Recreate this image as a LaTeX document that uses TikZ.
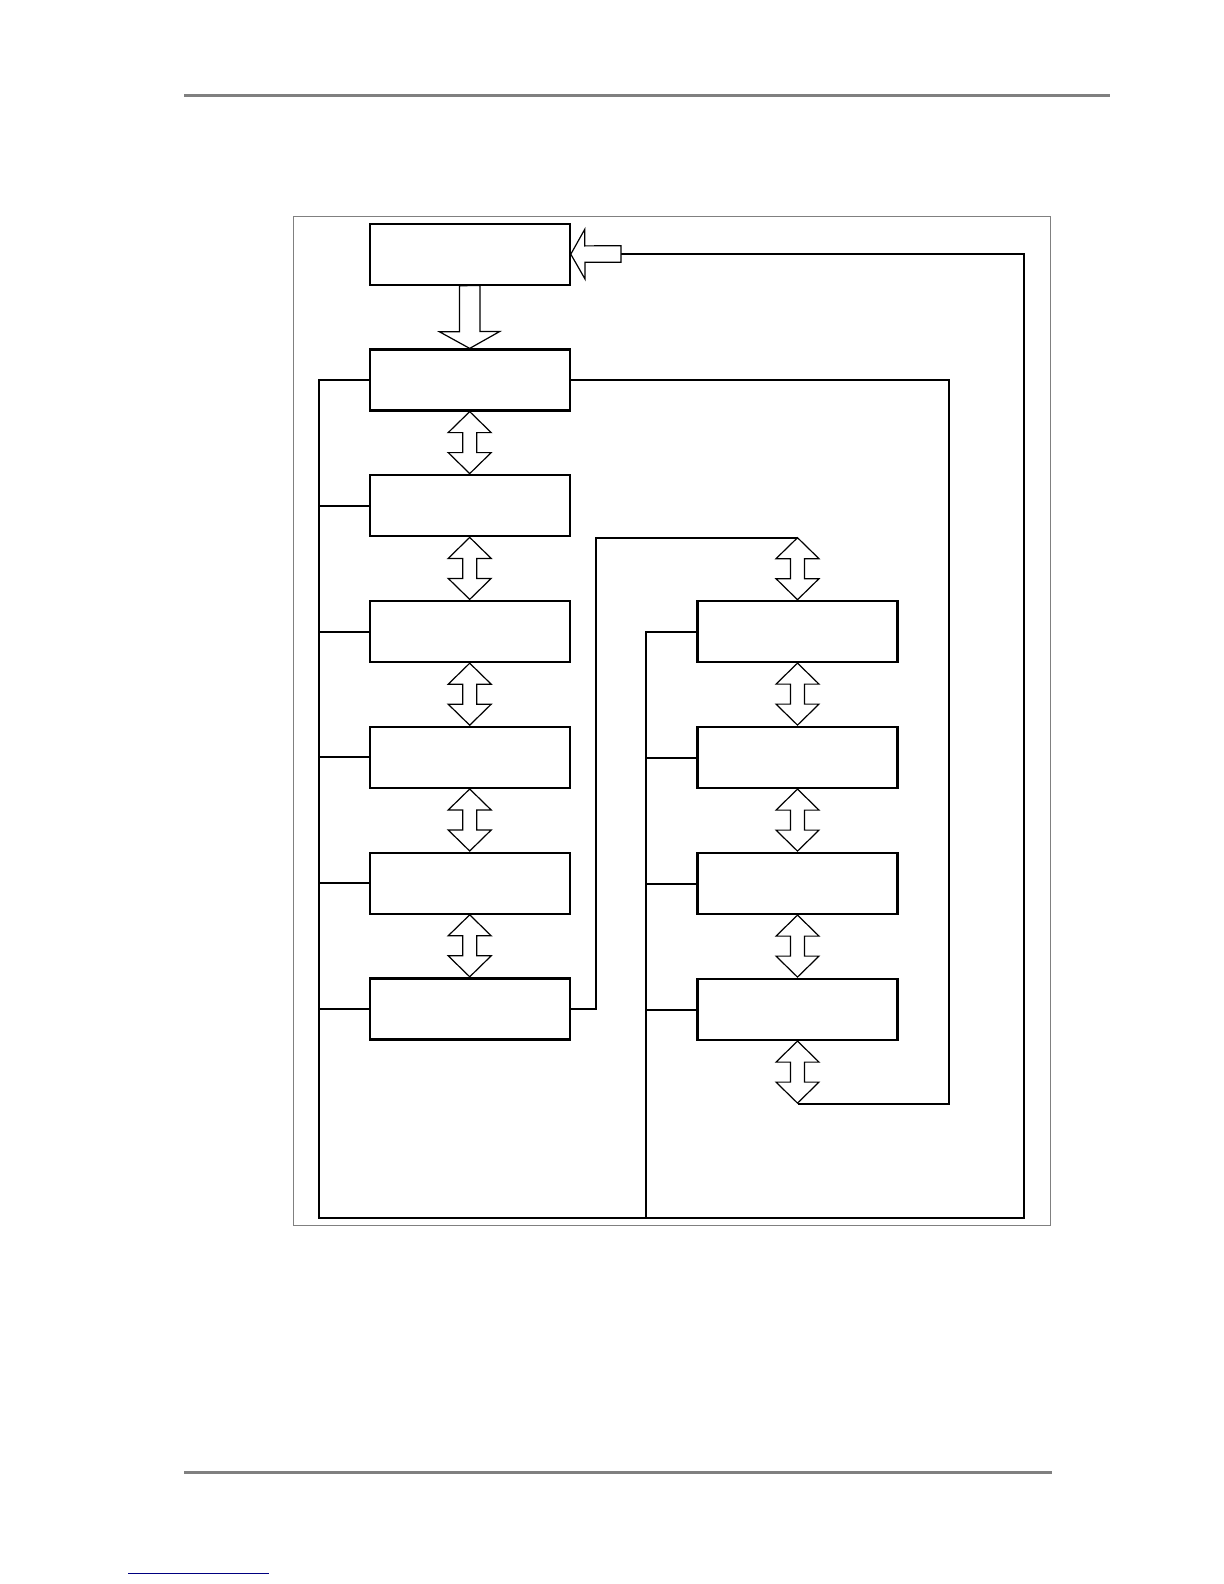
\documentclass[tikz,border=0pt]{standalone}
\usepackage{xcolor}
\usetikzlibrary{
    positioning,
    calc
}

\begin{document}
\begin{tikzpicture}[
    x=0.5pt, y=-0.5pt,
    box/.style={
        rectangle,
        draw=black,
        line width=1.1pt,
        minimum width=100pt,
        minimum height=30.5pt,
        inner sep=0pt,
        fill=white
    },
    link/.style={
        draw=black,
        line width=1pt
    },
    blockarrow/.style={
        draw=black,
        line width=0.6pt,
        fill=white,
        line join=miter
    },
    frame/.style={
        draw=black!50,
        line width=0.5pt
    },
    rule/.style={
        draw=black!50,
        line width=1.5pt
    }
]
\useasboundingbox (0,0) rectangle (1224,1584);

% =========================================================
% Page rules and frame
% =========================================================
\draw[rule] (184,95.3) -- (1110,95.3);
\draw[rule] (184,1472) -- (1052,1472);
\draw[draw=blue!50!black, line width=0.5pt] (128,1573) -- (269,1573);

\draw[frame] (293.7,216) rectangle (1050.3,1225.7);

% =========================================================
% Left column
% =========================================================
\node[box] (b0) at (469.7,254.2) {};
\foreach \i in {1,...,6}
    \node[box] (b\i) at (469.7,{254.2+125.8*\i}) {};

% =========================================================
% Right column
% =========================================================
\foreach \i in {0,...,3}
    \node[box] (r\i) at (797.5,{631.5+126*\i}) {};

% =========================================================
% Helper points
% =========================================================
\coordinate (lb) at (319,1217.7);
\coordinate (mb) at (646,1217.7);
\coordinate (rb) at (1023.7,1217.7);
\coordinate (feed) at (621,254);
\coordinate (jog) at (595.7,537.7);
\coordinate (rin) at (797.5,537.7);
\coordinate (rout) at (797.5,1104);
\coordinate (ret) at (949,1104);

% =========================================================
% Lines
% =========================================================
\draw[link] (b1.west) -| (lb) -- (rb) |- (feed);
\foreach \i in {2,...,6}
    \draw[link] (b\i.west) -- (b\i.west -| lb);

\draw[link] (r0.west) -| (mb);
\foreach \i in {1,...,3}
    \draw[link] (r\i.west) -- (r\i.west -| mb);

\draw[link] (b6.east) -| (jog) -- (rin);
\draw[link] (rout) -- (ret) |- (b1.east);

% =========================================================
% Block arrows
% =========================================================
\draw[blockarrow] (b0.south) ++(-10.2,0) -- ++(0,46) -- ++(-20,0)
    -- (b1.north) -- ++(30.2,-17) -- ++(-20,0) -- ++(0,-46) -- cycle;

\draw[blockarrow] (b0.east) -- ++(14,-25) -- ++(0,16.7)
    -- ($(feed)+(0,-8.3)$) -- ++(0,16.6) -- ++(-36,0) -- ++(0,16.7) -- cycle;

\foreach \top in {b1.south, b2.south, b3.south, b4.south, b5.south,
                  rin, r0.south, r1.south, r2.south, r3.south}
    \draw[blockarrow] (\top) -- ++(21.5,21) -- ++(-14.5,0) -- ++(0,20)
        -- ++(14.5,0) -- ++(-21.5,21) -- ++(-21.5,-21) -- ++(14.5,0)
        -- ++(0,-20) -- ++(-14.5,0) -- cycle;

\end{tikzpicture}
\end{document}
